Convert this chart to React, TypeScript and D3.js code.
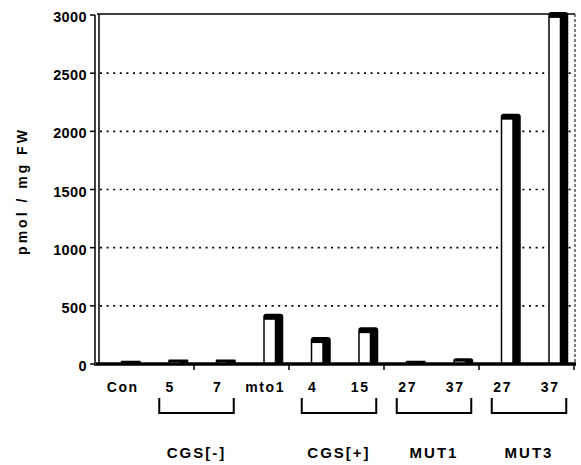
import React from "react";
import * as d3 from "d3";

// bar values (pmol / mg FW)
const categories = ["Con", "5", "7", "mto1", "4", "15", "27", "37", "27", "37"];
const values = [10, 15, 15, 380, 180, 265, 10, 20, 2100, 2975];
const yTicks = [0, 500, 1000, 1500, 2000, 2500, 3000];
const groupLabels = ["CGS[-]", "CGS[+]", "MUT1", "MUT3"];
const groupFrom = [1, 4, 6, 8];
const groupTo = [2, 5, 7, 9];

const W = 581;
const H = 465;
const FONT = "'Liberation Sans', Arial, Helvetica, sans-serif";

const App = () => {
  const x = d3.scaleBand<number>()
    .domain(d3.range(categories.length))
    .range([99, 574])
    .padding(0);
  const y = d3.scaleLinear().domain([0, 3000]).range([364, 15]);
  const step = x.step();
  const cx = (i: number) => (x(i) as number) + step / 2;
  const y0 = y(0);

  // 3d bar geometry
  const faceW = 12;
  const sideW = 8;

  return (
    <svg
      width={W}
      height={H}
      style={{ position: "absolute", left: 0, top: 0, background: "#fff" }}
      fontFamily={FONT}
    >
      {/* dotted gridlines */}
      {yTicks.filter(t => t > 0 && t < 3000).map(t => (
        <line key={"g" + t} x1={100} x2={574} y1={y(t)} y2={y(t)}
          stroke="#000" strokeWidth={1.6} strokeDasharray="2 4.6" />
      ))}

      {/* top and right border */}
      <line x1={97} x2={575} y1={y(3000) - 1} y2={y(3000) - 1} stroke="#000" strokeWidth={1.4} />
      <line x1={575} x2={575} y1={y(3000) - 1} y2={y0} stroke="#000" strokeWidth={1} strokeDasharray="3 2" />

      {/* bars */}
      {values.map((v, i) => {
        const left = cx(i) - 2;
        const top = y(v);
        const capH = Math.min(6, (y0 - top) + 1);
        return (
          <g key={"b" + i}>
            <rect x={left} y={top - capH} width={faceW + sideW} height={y0 - top + capH}
              rx={capH > 3 ? 3 : 1} fill="#000" />
            <rect x={left + 1.5} y={top} width={faceW - 2} height={y0 - top} fill="#fff" />
          </g>
        );
      })}

      {/* y axis: double wall line */}
      <line x1={95} x2={95} y1={y(3000)} y2={y0 + 2} stroke="#000" strokeWidth={1.5} />
      <line x1={99} x2={99} y1={y(3000) - 1} y2={y0} stroke="#000" strokeWidth={1.5} />
      {yTicks.map(t => (
        <g key={"t" + t}>
          <line x1={90} x2={95} y1={y(t)} y2={y(t)} stroke="#000" strokeWidth={1.5} />
          <text x={87} y={y(t) + 7} textAnchor="end" fontSize={14.5} fontWeight="bold"
            letterSpacing={0.4}>{t}</text>
        </g>
      ))}

      {/* floor */}
      <line x1={96} x2={576} y1={y0} y2={y0} stroke="#000" strokeWidth={3.5} />
      {d3.range(2, categories.length + 1, 2).map(i => {
        const tx = 99 + step * i;
        return <line key={"xt" + i} x1={tx} x2={tx} y1={y0} y2={y0 + 6} stroke="#000" strokeWidth={1.5} />;
      })}

      {/* category labels */}
      {categories.map((c, i) => (
        <text key={"c" + i} x={cx(i)} y={392} textAnchor="middle" fontSize={14}
          fontWeight="bold" letterSpacing={1.6}>{c}</text>
      ))}

      {/* group brackets and labels */}
      {groupLabels.map((g, k) => {
        const x1 = cx(groupFrom[k]) - 11;
        const x2 = cx(groupTo[k]) + 16;
        return (
          <g key={"gr" + k}>
            <path d={`M${x1},398 V413 H${x2} V398`} fill="none" stroke="#000" strokeWidth={2} />
            <text x={(x1 + x2) / 2} y={458} textAnchor="middle" fontSize={15}
              fontWeight="bold" letterSpacing={2}>{g}</text>
          </g>
        );
      })}

      {/* y title */}
      <text transform={`translate(27,191) rotate(-90)`} textAnchor="middle" fontSize={14}
        fontWeight="bold" letterSpacing={3}>pmol / mg FW</text>
    </svg>
  );
};

export default App;
